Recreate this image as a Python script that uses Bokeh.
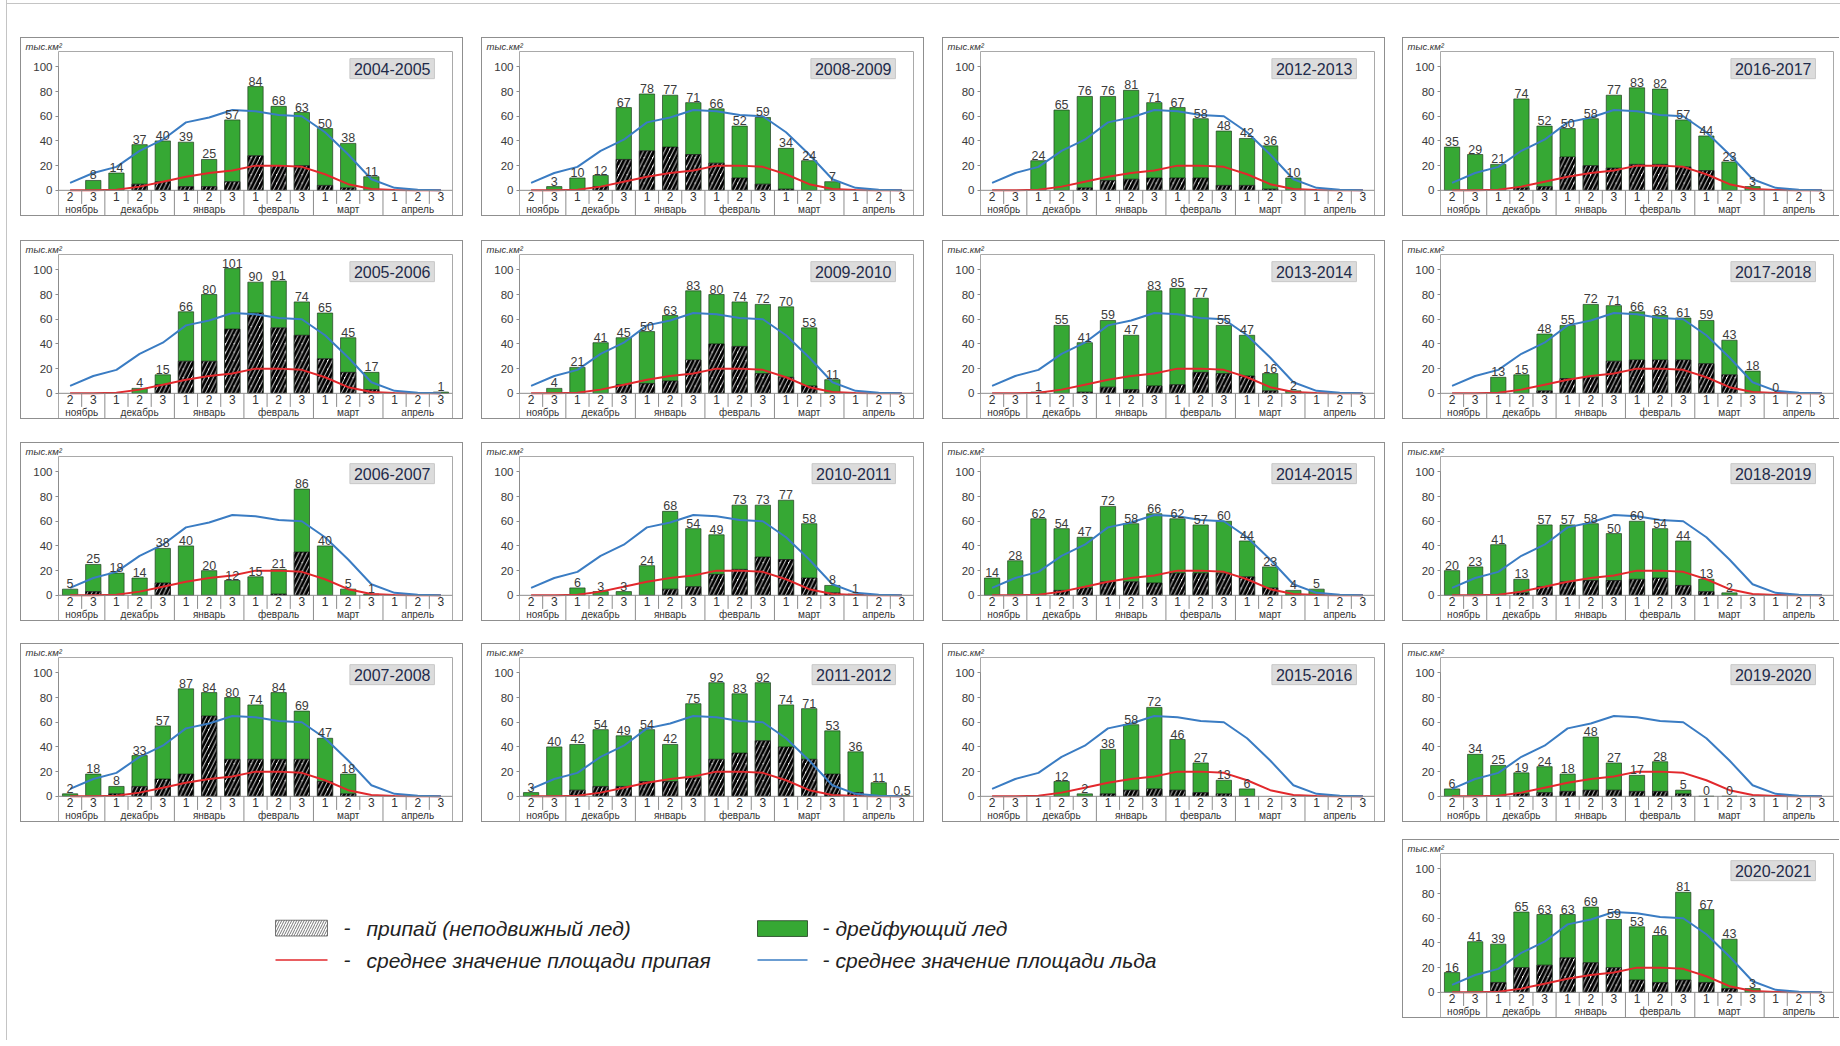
from bokeh.plotting import figure
from bokeh.models import ColumnDataSource, Range1d, FixedTicker, Label, Spacer, Title
from bokeh.layouts import row, column
from bokeh.embed import file_html
from bokeh.resources import INLINE
from bokeh.core.properties import value

# --- decades (ten-day periods) and months on the x axis -------------------
DECADES = ["2", "3", "1", "2", "3", "1", "2", "3", "1", "2", "3",
           "1", "2", "3", "1", "2", "3"]
MONTHS = ["ноябрь", "декабрь", "январь", "февраль", "март", "апрель"]
MONTH_DECADES = [2, 3, 3, 3, 3, 3]
Y_TICKS = [0, 20, 40, 60, 80, 100]

# --- long-term means, thousand km2 -----------------------------------------
MEAN_ICE = [6, 14, 19, 32, 41, 55, 59, 65, 64, 61, 60, 47, 29, 9, 2, 0.5, 0]
MEAN_FAST = [0, 0, 0.5, 3, 7, 11, 14, 16, 20, 20, 19, 13, 5, 1, 0.3, 0, 0]

N = None
# --- total ice area and fast ice area by decade, thousand km2 ---------------
ICE_2004_05 = [N, 8, 14, 37, 40, 39, 25, 57, 84, 68, 63, 50, 38, 11, N, N, N]
FAST_2004_05 = [N, N, N, 5, 7, 3, 3, 7, 28, 20, 20, 4, 2, N, N, N, N]
ICE_2005_06 = [N, N, N, 4, 15, 66, 80, 101, 90, 91, 74, 65, 45, 17, N, N, 1]
FAST_2005_06 = [N, N, N, N, 7, 26, 26, 52, 65, 53, 47, 28, 17, 3, N, N, N]
ICE_2006_07 = [5, 25, 18, 14, 38, 40, 20, 12, 15, 21, 86, 40, 5, 1, N, N, N]
FAST_2006_07 = [N, 3, N, N, 10, N, N, N, N, 1, 35, N, N, N, N, N, N]
ICE_2007_08 = [2, 18, 8, 33, 57, 87, 84, 80, 74, 84, 69, 47, 18, N, N, N, N]
FAST_2007_08 = [N, N, 2, 8, 14, 18, 65, 30, 30, 30, 30, 12, 2, N, N, N, N]
ICE_2008_09 = [N, 3, 10, 12, 67, 78, 77, 71, 66, 52, 59, 34, 24, 7, N, N, N]
FAST_2008_09 = [N, N, N, 3, 25, 32, 35, 29, 22, 10, 5, 1, N, N, N, N, N]
ICE_2009_10 = [N, 4, 21, 41, 45, 50, 63, 83, 80, 74, 72, 70, 53, 11, N, N, N]
FAST_2009_10 = [N, N, N, N, 7, 8, 10, 27, 40, 38, 16, 13, 6, N, N, N, N]
ICE_2010_11 = [N, N, 6, 3, 3, 24, 68, 54, 49, 73, 73, 77, 58, 8, 1, N, N]
FAST_2010_11 = [N, N, N, N, N, N, 5, 7, 17, 21, 31, 29, 14, 2, N, N, N]
ICE_2011_12 = [3, 40, 42, 54, 49, 54, 42, 75, 92, 83, 92, 74, 71, 53, 36, 11, 0.5]
FAST_2011_12 = [N, N, 5, 8, 8, 12, 12, 15, 30, 35, 45, 40, 30, 18, 3, N, N]
ICE_2012_13 = [N, N, 24, 65, 76, 76, 81, 71, 67, 58, 48, 42, 36, 10, N, N, N]
FAST_2012_13 = [N, N, N, N, 2, 8, 9, 10, 10, 10, 4, 4, 1, N, N, N, N]
ICE_2013_14 = [N, N, 1, 55, 41, 59, 47, 83, 85, 77, 55, 47, 16, 2, N, N, N]
FAST_2013_14 = [N, N, N, N, 1, 5, 3, 6, 7, 17, 16, 14, 2, N, N, N, N]
ICE_2014_15 = [14, 28, 62, 54, 47, 72, 58, 66, 62, 57, 60, 44, 23, 4, 5, N, N]
FAST_2014_15 = [N, N, N, 4, 6, 11, 11, 10, 18, 18, 18, 15, 6, N, N, N, N]
ICE_2015_16 = [N, N, N, 12, 2, 38, 58, 72, 46, 27, 13, 6, N, N, N, N, N]
FAST_2015_16 = [N, N, N, N, N, 2, 5, 6, 5, 3, 2, N, N, N, N, N, N]
ICE_2016_17 = [35, 29, 21, 74, 52, 50, 58, 77, 83, 82, 57, 44, 23, 3, N, N, N]
FAST_2016_17 = [N, N, N, 2, 3, 27, 20, 18, 21, 21, 19, 16, N, N, N, N, N]
ICE_2017_18 = [N, N, 13, 15, 48, 55, 72, 71, 66, 63, 61, 59, 43, 18, 0, N, N]
FAST_2017_18 = [N, N, N, N, 2, 12, 13, 26, 27, 27, 27, 24, 15, N, N, N, N]
ICE_2018_19 = [20, 23, 41, 13, 57, 57, 58, 50, 60, 54, 44, 13, 2, N, N, N, N]
FAST_2018_19 = [N, N, N, 2, 7, 11, 12, 12, 13, 14, 8, 3, N, N, N, N, N]
ICE_2019_20 = [6, 34, 25, 19, 24, 18, 48, 27, 17, 28, 5, 0, 0, N, N, N, N]
FAST_2019_20 = [N, N, N, 2, 3, 4, 5, 5, 4, 4, 2, N, N, N, N, N, N]
ICE_2020_21 = [16, 41, 39, 65, 63, 63, 69, 59, 53, 46, 81, 67, 43, 3, N, N, N]
FAST_2020_21 = [N, N, 8, 20, 22, 28, 24, 20, 10, 8, 10, 8, 3, N, N, N, N]

GREEN = "#36a834"
BLUE = "#3a7cc3"
RED = "#e2282c"
GRID_GRAY = "#8c8c8c"
FONT = "Liberation Sans"


def nan(v):
    return float("nan") if v is None else v


def fmt(v):
    return str(int(v)) if float(v).is_integer() else str(v)


def season_panel(title, ice, fast, width=443, last_col=False):
    n = len(DECADES)
    idx = list(range(n))
    p = figure(frame_width=392, frame_height=164,
               x_range=Range1d(-0.5, n - 0.5), y_range=Range1d(-22, 112.4),
               x_axis_location=None, toolbar_location=None, output_backend="svg",
               min_border_left=37, min_border_right=width - 2 - 37 - 392,
               min_border_top=11, min_border_bottom=0,
               background_fill_color="white", border_fill_color="white")
    p.title = Title(text="тыс.км²", align="left", offset=-33, standoff=0,
                    text_font=FONT, text_font_size="9.5px",
                    text_font_style="italic", text_color="#333333")
    p.grid.visible = False
    p.outline_line_color = "#a9a9a9"
    if last_col:
        p.styles = {"border": "1px solid #8f8f8f", "border-right": "none"}
    else:
        p.styles = {"border": "1px solid #8f8f8f"}

    ax = p.yaxis[0]
    ax.ticker = FixedTicker(ticks=Y_TICKS)
    ax.bounds = (0, 100)
    ax.axis_line_color = GRID_GRAY
    ax.major_tick_line_color = GRID_GRAY
    ax.major_tick_out = 3
    ax.major_tick_in = 0
    ax.minor_tick_line_color = None
    ax.major_label_standoff = 3
    ax.major_label_text_font = FONT
    ax.major_label_text_font_size = "11.5px"
    ax.major_label_text_color = "#3a3a3a"

    src = ColumnDataSource(dict(x=idx, ice=[nan(v) for v in ice],
                                fast=[nan(v) for v in fast]))
    p.vbar(x="x", top="ice", bottom=0, width=0.66, source=src,
           fill_color=GREEN, line_color="#1f3d1f", line_width=0.7)
    p.vbar(x="x", top="fast", bottom=0, width=0.66, source=src,
           fill_color="white", line_color="#111111", line_width=0.7,
           hatch_pattern="/", hatch_color="black", hatch_weight=3,
           hatch_scale=8.5)

    p.line(idx, MEAN_FAST, line_color=RED, line_width=2)
    p.line(idx, MEAN_ICE, line_color=BLUE, line_width=2)

    lx = [i for i, v in enumerate(ice) if v is not None]
    ly = [ice[i] for i in lx]
    lt = [fmt(ice[i]) for i in lx]
    p.text(x=lx, y=ly, text=lt, text_align="center", text_baseline="bottom",
           y_offset=-1, text_font=value(FONT), text_font_size="12.5px",
           text_color="#3c3c3c")

    # table under the x axis: decades row and months row
    bounds = []
    acc = 0
    for k in MONTH_DECADES[:-1]:
        acc += k
        bounds.append(acc - 0.5)
    inner = [i + 0.5 for i in range(n - 1) if (i + 0.5) not in bounds]
    p.segment(x0=[-0.5], y0=[0], x1=[n - 0.5], y1=[0],
              line_color=GRID_GRAY, line_width=1)
    p.segment(x0=inner, y0=[0] * len(inner), x1=inner, y1=[-11] * len(inner),
              line_color=GRID_GRAY, line_width=1)
    p.segment(x0=bounds, y0=[0] * len(bounds), x1=bounds,
              y1=[-22] * len(bounds), line_color=GRID_GRAY, line_width=1)
    p.text(x=idx, y=[-5.3] * n, text=DECADES, text_align="center",
           text_baseline="middle", text_font=value(FONT),
           text_font_size="12px", text_color="#333333")
    centers = []
    acc = 0
    for k in MONTH_DECADES:
        centers.append(acc + (k - 1) / 2)
        acc += k
    p.text(x=centers, y=[-15.8] * len(MONTHS), text=MONTHS,
           text_align="center", text_baseline="middle", text_font=value(FONT),
           text_font_size="10px", text_color="#333333")

    p.add_layout(Label(x=15.72, y=98.5, text=title, text_align="right",
                       text_baseline="middle", text_font=FONT,
                       text_font_size="16px", text_color="#1f2b4a",
                       background_fill_color="#dcdcdc",
                       border_line_color="#c8c8c8", padding=4))
    return p


def legend_panel(width=1365, height=180):
    # canvas starts 20 px from the page's left edge
    lg = figure(width=width, height=height, x_range=Range1d(0, width),
                y_range=Range1d(0, height), x_axis_location=None,
                y_axis_location=None, toolbar_location=None,
                output_backend="svg", min_border=0,
                outline_line_color=None)
    lg.title.text = ""
    lg.grid.visible = False
    lg.rect(x=[281], y=[98.5], width=52, height=17, fill_color="white",
            line_color="#555555", line_width=0.8, hatch_pattern="/",
            hatch_color="#777777", hatch_weight=1, hatch_scale=5)
    lg.rect(x=[762], y=[98], width=50, height=17, fill_color=GREEN,
            line_color="#1f3d1f", line_width=0.8)
    lg.segment(x0=[255], y0=[64], x1=[307], y1=[64], line_color=RED,
               line_width=1.5)
    lg.segment(x0=[737], y0=[64], x1=[787], y1=[64], line_color=BLUE,
               line_width=1.5)
    lg.text(x=[323, 323, 802, 802], y=[98.5, 64, 98.5, 64],
            text=["-", "-", "-", "-"], text_baseline="middle",
            text_font=value(FONT), text_font_size="21px",
            text_font_style="italic", text_color="#222222")
    lg.text(x=[346, 346, 815, 815], y=[98.5, 64, 98.5, 64],
            text=["припай (неподвижный лед)", "среднее значение площади припая",
                  "дрейфующий лед", "среднее значение площади льда"],
            text_baseline="middle", text_font=value(FONT),
            text_font_size="21px", text_font_style="italic",
            text_color="#222222")
    return lg


grid = [
    [("2004-2005", ICE_2004_05, FAST_2004_05), ("2008-2009", ICE_2008_09, FAST_2008_09),
     ("2012-2013", ICE_2012_13, FAST_2012_13), ("2016-2017", ICE_2016_17, FAST_2016_17)],
    [("2005-2006", ICE_2005_06, FAST_2005_06), ("2009-2010", ICE_2009_10, FAST_2009_10),
     ("2013-2014", ICE_2013_14, FAST_2013_14), ("2017-2018", ICE_2017_18, FAST_2017_18)],
    [("2006-2007", ICE_2006_07, FAST_2006_07), ("2010-2011", ICE_2010_11, FAST_2010_11),
     ("2014-2015", ICE_2014_15, FAST_2014_15), ("2018-2019", ICE_2018_19, FAST_2018_19)],
    [("2007-2008", ICE_2007_08, FAST_2007_08), ("2011-2012", ICE_2011_12, FAST_2011_12),
     ("2015-2016", ICE_2015_16, FAST_2015_16), ("2019-2020", ICE_2019_20, FAST_2019_20)],
]

LINE_GRAY = {"background-color": "#c4c4c4"}

rows = [Spacer(width=1833, height=3), Spacer(width=1833, height=1, styles=LINE_GRAY),
        Spacer(width=10, height=33)]
row_gaps = [23, 22, 21, 16]
for r, seasons in enumerate(grid):
    items = [Spacer(width=13, height=180)]
    for c, (t, ice, fast) in enumerate(seasons):
        if c > 0:
            items.append(Spacer(width=17 if c == 3 else 18, height=180))
        items.append(season_panel(t, ice, fast, width=438 if c == 3 else 443,
                                  last_col=(c == 3)))
    rows.append(row(*items))
    rows.append(Spacer(width=10, height=row_gaps[r]))

rows.append(row(Spacer(width=13, height=180), legend_panel(),
                Spacer(width=17, height=180),
                season_panel("2020-2021", ICE_2020_21, FAST_2020_21, width=438,
                             last_col=True)))

page = row(Spacer(width=6, height=1040),
           Spacer(width=1, height=1040, styles=LINE_GRAY),
           column(*rows))
open("out.html", "w").write(file_html(page, INLINE))
